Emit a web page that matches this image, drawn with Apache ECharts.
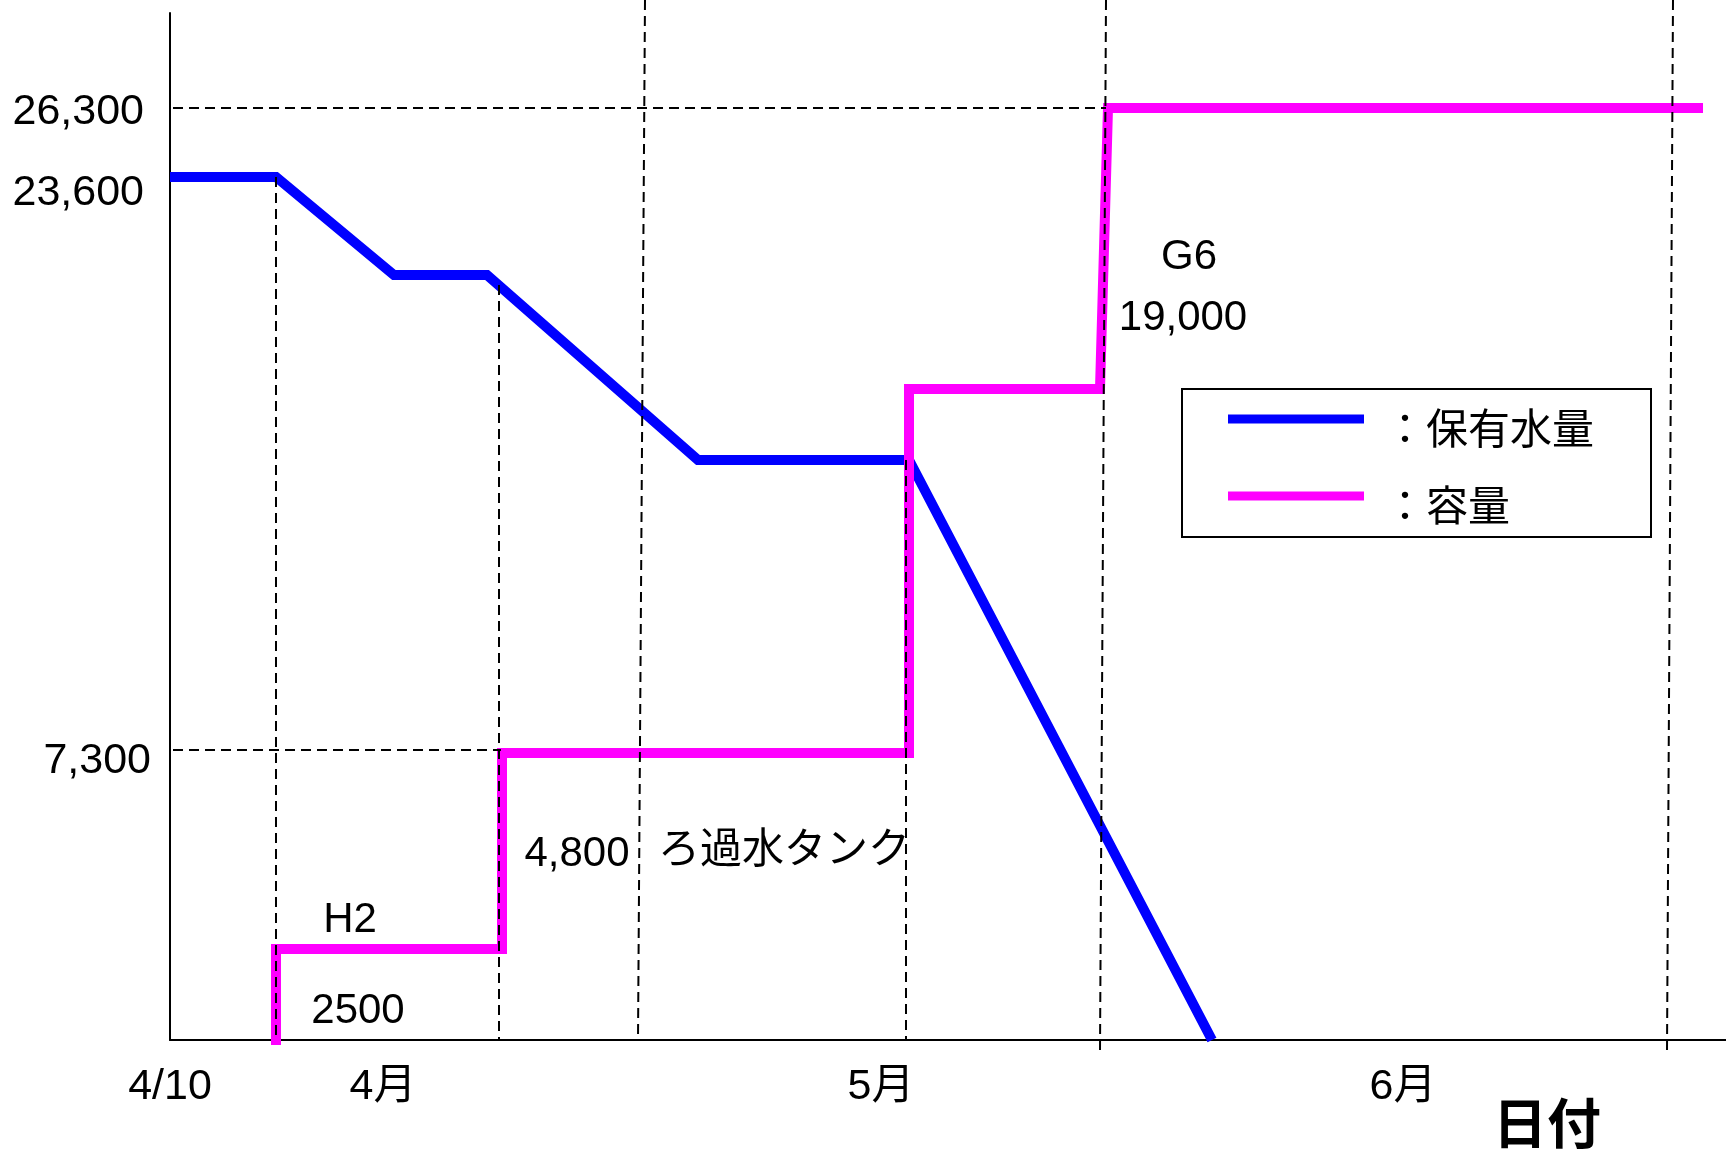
<!DOCTYPE html>
<html><head><meta charset="utf-8">
<script src="https://cdn.jsdelivr.net/npm/echarts@6/dist/echarts.min.js"></script>
<style>html,body{margin:0;padding:0;background:#fff}#c{width:1726px;height:1149px}</style>
</head><body><div id="c"></div>
<script>
// Schematic chart (not to scale): x = timeline position, y = schematic level
const holdX = [0, 106, 224, 317, 528, 739, 1042];
const holdY = [863, 863, 765, 765, 580, 580, 0];
const capX = [106, 106, 332, 332, 739, 739, 930, 938, 1533];
const capY = [-5, 91, 91, 287, 287, 651, 651, 932, 932];
const yTickPos = [279, 847, 928];
const yTickLabels = ['7,300', '23,600', '26,300'];
const xTickPos = [0, 213, 711, 1233];
const xTickLabels = ['4/10', '4月', '5月', '6月'];
const seriesNames = ['：保有水量', '：容量'];
// guide lines: [x1, y1, x2, y2]
const guideX1 = [106, 329, 475, 736, 936, 1503, 3, 3];
const guideY1 = [863, 755, 1040, 580, 1040, 1040, 932, 290];
const guideX2 = [106, 329, 468, 736, 930, 1497, 936, 331];
const guideY2 = [0, 0, 0, 0, -11, -11, 932, 290];
const noteText = ['H2', '2500', '4,800', 'ろ過水タンク', 'G6', '19,000', '日付'];
const noteX = [180, 188, 407, 614, 1019, 1013, 1377];
const noteY = [120, 29, 186, 189, 783, 722, -89];

const FONT = "'Liberation Sans', Arial, 'Noto Sans CJK JP', sans-serif";
const CJK = "'Noto Sans CJK JP', sans-serif";
const pair = (xs, ys) => xs.map((x, i) => [x, ys[i]]);

const series = [];
series.push({
  name: seriesNames[0], type: 'line', data: pair(holdX, holdY), showSymbol: false, symbol: 'none',
  lineStyle: {color: '#0000ff', width: 10, cap: 'butt', join: 'miter'}, itemStyle: {color: '#0000ff'},
  clip: false, z: 3
});
series.push({
  name: seriesNames[1], type: 'line', data: pair(capX, capY), showSymbol: false, symbol: 'none',
  lineStyle: {color: '#ff00ff', width: 10, cap: 'butt', join: 'miter'}, itemStyle: {color: '#ff00ff'},
  clip: false, z: 3
});
guideX1.forEach((x, i) => {
  series.push({
    type: 'line', data: [[x, guideY1[i]], [guideX2[i], guideY2[i]]], showSymbol: false, symbol: 'none',
    lineStyle: {color: '#000', width: 2, type: [10, 6]}, clip: false, z: 5, silent: true
  });
});
series.push({
  type: 'scatter', symbolSize: 0, clip: false, z: 6, silent: true,
  itemStyle: {opacity: 1},
  data: noteText.map((t, i) => ({name: t, value: [noteX[i], noteY[i]],
    label: t === '日付' ? {fontSize: 54, fontWeight: 'bold'} : {}})),
  label: {show: true, position: 'inside', formatter: '{b}', color: '#000', opacity: 1,
    fontSize: 42, fontFamily: FONT, textBorderWidth: 0}
});

const chart = echarts.init(document.getElementById('c'), null, {renderer: 'canvas'});
chart.setOption({
  animation: false,
  backgroundColor: '#fff',
  grid: {left: 170, right: 0, top: 13, bottom: 109},
  xAxis: {
    type: 'value', min: 0, max: 1556,
    axisLine: {show: true, onZero: false, lineStyle: {color: '#000', width: 2}},
    axisTick: {show: false}, splitLine: {show: false},
    axisLabel: {
      customValues: xTickPos, margin: 26, color: '#000', fontSize: 43, fontFamily: FONT,
      formatter: v => xTickLabels[xTickPos.indexOf(v)] || ''
    }
  },
  yAxis: {
    type: 'value', min: 0, max: 1027,
    axisLine: {show: true, onZero: false, lineStyle: {color: '#000', width: 2}},
    axisTick: {show: false}, splitLine: {show: false},
    axisLabel: {
      customValues: yTickPos, margin: 19, color: '#000', fontSize: 43, fontFamily: FONT,
      formatter: v => {
        const i = yTickPos.indexOf(v);
        if (i < 0) return '';
        return i === 0 ? yTickLabels[i] : '{p|' + yTickLabels[i] + '}';
      },
      rich: {p: {padding: [0, 7, 0, 0], fontSize: 43, fontFamily: FONT, color: '#000'}}
    }
  },
  legend: {
    data: seriesNames, orient: 'vertical', left: 1182, top: 389,
    icon: 'rect', itemWidth: 136, itemHeight: 9, itemGap: 17,
    padding: [0, 57, 11, 46], borderColor: '#000', borderWidth: 2,
    selectedMode: false,
    formatter: name => '{s| }\n{t|' + name + '}',
    textStyle: {color: '#000', fontSize: 42, padding: [0, 0, 0, 15], fontFamily: CJK,
      rich: {
        s: {fontSize: 2, lineHeight: 18, height: 18, fontFamily: CJK},
        t: {fontSize: 42, lineHeight: 42, fontFamily: CJK, color: '#000'}
      }}
  },
  series: series
});
</script></body></html>
